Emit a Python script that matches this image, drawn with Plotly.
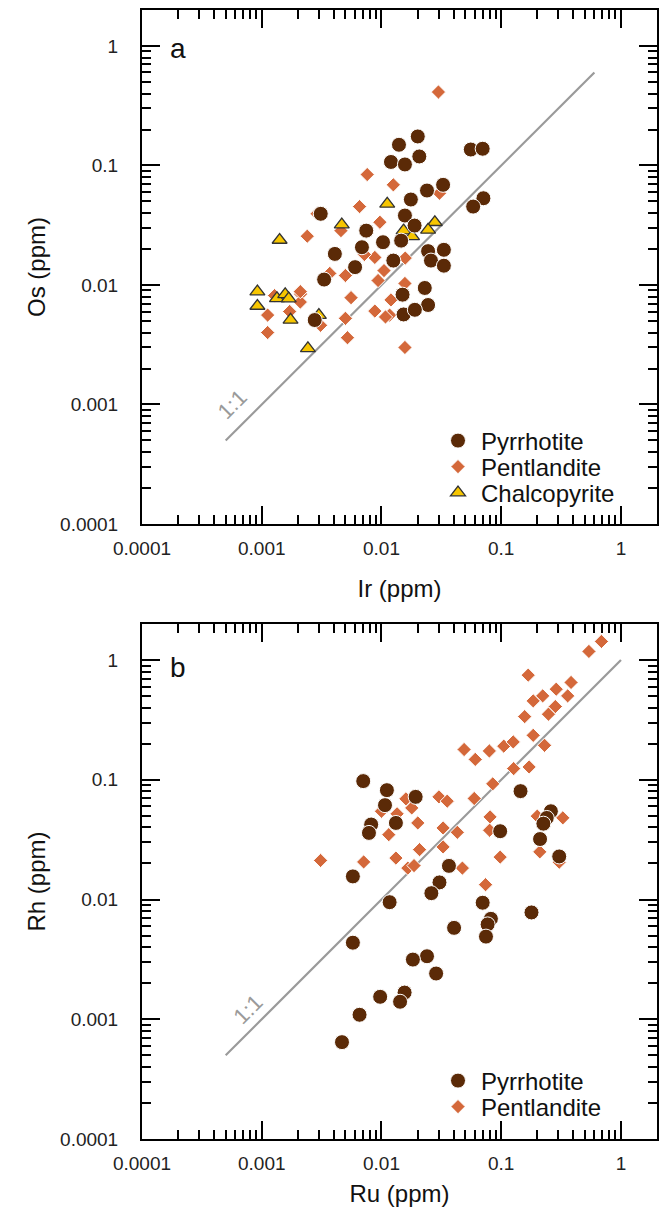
import plotly.graph_objects as go
import numpy as np

# ---------------- Panel a data (Ir vs Os, ppm) ----------------
po_ir = [0.0201, 0.0140, 0.0557, 0.070, 0.0120, 0.0157, 0.0207, 0.0327, 0.024, 0.0176,
         0.071, 0.0583, 0.00311, 0.0157, 0.0189, 0.00746, 0.0103, 0.0146, 0.00687, 0.0245,
         0.0332, 0.00408, 0.01256, 0.0259, 0.0332, 0.00602, 0.00332, 0.023, 0.015,
         0.0245, 0.0153, 0.019, 0.00277]
po_os = [0.175, 0.149, 0.136, 0.138, 0.107, 0.102, 0.119, 0.0689, 0.0617, 0.0519,
         0.0532, 0.0453, 0.0394, 0.0381, 0.0314, 0.0285, 0.0228, 0.0235, 0.0207, 0.0192,
         0.0197, 0.0182, 0.016, 0.016, 0.0145, 0.0141, 0.0111, 0.00944, 0.0083,
         0.0068, 0.00567, 0.0062, 0.00509]

pn_ir = [0.0299, 0.0076, 0.01256, 0.00656, 0.0024, 0.00459, 0.0097, 0.0157, 0.0305, 0.0088,
         0.0105, 0.0050, 0.00937, 0.00557, 0.0037, 0.0072, 0.0158, 0.0029, 0.00128, 0.00211,
         0.00112, 0.00112, 0.00171, 0.0021, 0.0050, 0.00557, 0.0052, 0.0088, 0.0117, 0.0157,
         0.0157, 0.0120, 0.0021, 0.0031, 0.0108]
pn_os = [0.412, 0.084, 0.0689, 0.0453, 0.0256, 0.0285, 0.0335, 0.0370, 0.0586, 0.017,
         0.0132, 0.012, 0.0109, 0.0079, 0.0125, 0.0180, 0.0168, 0.0395, 0.00815, 0.0084,
         0.0056, 0.0040, 0.0060, 0.0072, 0.00526, 0.00783, 0.00362, 0.00605, 0.0056, 0.0030,
         0.0103, 0.0075, 0.0088, 0.0046, 0.0054]

cp_ir = [0.01117, 0.00466, 0.00141, 0.0279, 0.0245, 0.0153, 0.018, 0.00092, 0.00092,
         0.00134, 0.00157, 0.00168, 0.00174, 0.00243, 0.0030]
cp_os = [0.0477, 0.032, 0.0238, 0.0335, 0.0289, 0.0285, 0.0255, 0.0088, 0.00667,
         0.00773, 0.00835, 0.0077, 0.0051, 0.00295, 0.0056]

# ---------------- Panel b data (Ru vs Rh, ppm) ----------------
po_ru = [0.00704, 0.0111, 0.0193, 0.0107, 0.0132, 0.0082, 0.00786, 0.145, 0.26, 0.24,
         0.225, 0.211, 0.305, 0.098, 0.0366, 0.0305, 0.0261, 0.00577, 0.0117, 0.070,
         0.179, 0.082, 0.077, 0.0746, 0.0404, 0.00577, 0.024, 0.0183, 0.0286, 0.0156,
         0.0143, 0.00975, 0.00656, 0.00468]
po_rh = [0.0975, 0.0819, 0.072, 0.0614, 0.0436, 0.0423, 0.036, 0.0804, 0.0546, 0.048,
         0.043, 0.032, 0.0229, 0.0372, 0.0191, 0.0139, 0.0113, 0.0156, 0.0095, 0.0094,
         0.0078, 0.0069, 0.0062, 0.0049, 0.0058, 0.00436, 0.00336, 0.00315, 0.00241, 0.00167,
         0.0014, 0.00154, 0.00109, 0.000644]

pn_ru = [0.687, 0.54, 0.168, 0.383, 0.288, 0.359, 0.222, 0.185, 0.283, 0.248,
         0.157, 0.185, 0.23, 0.049, 0.0607, 0.0796, 0.105, 0.126, 0.127, 0.171,
         0.085, 0.0595, 0.0302, 0.0354, 0.016, 0.0179, 0.0201, 0.010, 0.0135, 0.0115,
         0.0327, 0.043, 0.0327, 0.0807, 0.080, 0.327, 0.20, 0.098, 0.21, 0.0208,
         0.0132, 0.0166, 0.0187, 0.0474, 0.0071, 0.0031, 0.074, 0.305]
pn_rh = [1.43, 1.18, 0.748, 0.65, 0.571, 0.502, 0.502, 0.456, 0.409, 0.353,
         0.337, 0.235, 0.194, 0.179, 0.148, 0.174, 0.191, 0.207, 0.124, 0.128,
         0.0925, 0.0698, 0.072, 0.0663, 0.0693, 0.0582, 0.0436, 0.0546, 0.052, 0.0348,
         0.0396, 0.0364, 0.0275, 0.049, 0.0379, 0.0481, 0.0497, 0.0226, 0.025, 0.0261,
         0.0222, 0.0183, 0.0192, 0.0183, 0.0206, 0.0212, 0.0133, 0.0205]

one_to_one_a = [0.0005, 0.6]
one_to_one_b = [0.0005, 1.0]

tick_vals = [0.0001, 0.001, 0.01, 0.1, 1]
tick_text = ["0.0001", "0.001", "0.01", "0.1", "1"]
minor_vals = [m * 10.0 ** e for e in range(-4, 1) for m in range(2, 10)]

PO = "#5b2a07"
PN = "#d4683a"
CP = "#f7c600"
FONT = "Liberation Sans, Arial, sans-serif"

# page body has an 8px margin, so the figure is offset by (8, 8)
OFF = 8
W, H = 670 - OFF, 1215 - 2 * OFF
L = 142 - OFF
T = 10 - OFF
R = 670 - 657
B = H - (1139 - OFF)
pw = W - L - R
ph = H - T - B

def py(y_abs):
    return (H - B - (y_abs - OFF)) / ph

def px(x_abs):
    return (x_abs - OFF - L) / pw

fig = go.Figure()

def add_panel(fig, xa, ya, series, line_xy):
    fig.add_trace(go.Scatter(x=line_xy, y=line_xy, mode="lines", xaxis=xa, yaxis=ya,
                             line=dict(color="#9a9a9a", width=2.2), showlegend=False,
                             hoverinfo="skip"))
    for name, xs, ys, sym, col, size, lc, lw, leg in series:
        fig.add_trace(go.Scatter(x=xs, y=ys, mode="markers", name=name, xaxis=xa, yaxis=ya,
                                 legend=leg,
                                 marker=dict(symbol=sym, color=col, size=size,
                                             line=dict(color=lc, width=lw))))

ser_a = [
    ("Pentlandite", pn_ir, pn_os, "diamond", PN, 11, "white", 1, "legend2"),
    ("Chalcopyrite", cp_ir, cp_os, "triangle-up", CP, 13, "#333333", 1.3, "legend3"),
    ("Pyrrhotite", po_ir, po_os, "circle", PO, 15, "white", 1, "legend"),
]
ser_b = [
    ("Pentlandite", pn_ru, pn_rh, "diamond", PN, 11, "white", 1, "legend5"),
    ("Pyrrhotite", po_ru, po_rh, "circle", PO, 15, "white", 1, "legend4"),
]
add_panel(fig, "x", "y", ser_a, one_to_one_a)
add_panel(fig, "x2", "y2", ser_b, one_to_one_b)

axis_common = dict(type="log", range=[-4, np.log10(2)], tickvals=tick_vals, ticktext=tick_text,
                   ticks="inside", ticklen=18, tickwidth=1.5, tickcolor="black",
                   showline=True, linecolor="black", linewidth=2, mirror="allticks",
                   showgrid=False, zeroline=False, automargin=False,
                   tickfont=dict(family=FONT, size=19, color="#222"),
                   minor=dict(tickvals=minor_vals, ticks="inside", ticklen=9, tickwidth=1.5,
                              tickcolor="black", showgrid=False))

def title(t, standoff):
    return dict(text=t, font=dict(family=FONT, size=24, color="#111"), standoff=standoff)

def leg(y_abs):
    return dict(x=px(435), y=py(y_abs), xanchor="left", yanchor="middle",
                bgcolor="rgba(0,0,0,0)", borderwidth=0, itemwidth=36,
                font=dict(family=FONT, size=24, color="#111"))

fig.update_layout(
    width=W, height=H, margin=dict(l=L, r=R, t=T, b=B, autoexpand=False),
    plot_bgcolor="white", paper_bgcolor="white",
    xaxis=dict(axis_common, anchor="y", title=title("Ir (ppm)", 22), ticklabelstandoff=6),
    yaxis=dict(axis_common, anchor="x", domain=[py(524), py(10)], title=title("Os (ppm)", 8),
               ticklabelstandoff=18),
    xaxis2=dict(axis_common, anchor="y2", title=title("Ru (ppm)", 20), ticklabelstandoff=6),
    yaxis2=dict(axis_common, anchor="x2", domain=[py(1139), py(624)], title=title("Rh (ppm)", 8),
                ticklabelstandoff=18),
    legend=leg(441), legend2=leg(467), legend3=leg(493),
    legend4=leg(1081), legend5=leg(1107),
    showlegend=True,
)

fig.add_annotation(text="a", xref="x domain", yref="y domain", x=0.05, y=0.925,
                   showarrow=False, font=dict(family=FONT, size=28, color="#111"),
                   xanchor="left", yanchor="middle")
fig.add_annotation(text="b", xref="x2 domain", yref="y2 domain", x=0.05, y=0.915,
                   showarrow=False, font=dict(family=FONT, size=28, color="#111"),
                   xanchor="left", yanchor="middle")
fig.add_annotation(text="1:1", xref="x", yref="y", x=np.log10(0.000565), y=np.log10(0.001),
                   showarrow=False, textangle=-45, font=dict(family=FONT, size=22, color="#9a9a9a"))
fig.add_annotation(text="1:1", xref="x2", yref="y2", x=np.log10(0.00077), y=np.log10(0.0012),
                   showarrow=False, textangle=-45, font=dict(family=FONT, size=22, color="#9a9a9a"))

fig.write_html("out.html")
